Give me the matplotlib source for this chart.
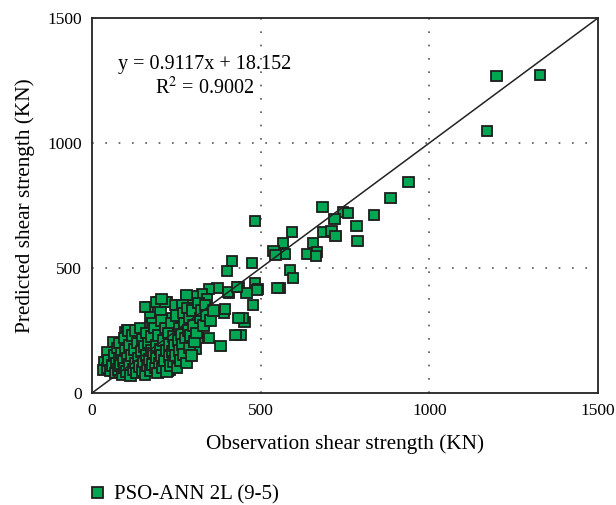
import matplotlib.pyplot as plt
import matplotlib.patheffects as pe

obs = [1198, 1328, 1171, 937, 886, 836, 783, 786, 682, 744, 759, 720, 685, 709, 723,
       593, 566, 572, 655, 640, 667, 664, 587, 596, 557, 483, 537, 543, 415, 400,
       474, 551, 483, 492, 433, 406, 371, 347, 326, 299, 279, 459, 403, 430, 489,
       477, 451, 439, 391, 394, 382, 347, 314, 308, 284, 341, 261, 296, 240, 270,
       305, 311, 276, 261, 234, 237, 231, 222, 281, 426, 447, 433,
       166, 196, 202, 172, 178, 62, 47, 38, 33, 98, 127, 89, 113, 157, 192, 219,
       246, 267, 237, 207, 246, 276, 187, 104, 225,
       45, 50, 55, 60, 65, 70, 72, 75, 78, 80, 82, 85, 88, 90, 92, 95, 97, 100,
       102, 105, 108, 110, 112, 115, 118, 120, 122, 125, 128, 130, 132, 135, 137,
       140, 142, 145, 148, 150, 152, 155, 157, 160, 162, 165, 167, 170, 172, 175,
       177, 180, 182, 185, 187, 190, 192, 195, 197, 200, 202, 205, 207, 210, 212,
       215, 218, 220, 222, 225, 228, 230, 232, 235, 238, 240, 242, 245, 248, 250,
       252, 255, 258, 260, 262, 265, 268, 270, 272, 275, 278, 280, 283, 285, 288,
       290, 292, 295, 298, 300, 305, 310, 315, 320, 325, 330, 335, 340, 350, 360]
pred = [1268, 1272, 1048, 844, 780, 712, 668, 608, 744, 724, 720, 696, 644, 648, 628,
        644, 600, 556, 600, 556, 564, 548, 492, 460, 420, 688, 568, 552, 528, 488,
        520, 420, 440, 416, 424, 400, 420, 416, 396, 388, 384, 400, 404, 424, 412,
        352, 284, 232, 320, 336, 188, 220, 220, 176, 168, 376, 352, 352, 292, 292,
        308, 272, 244, 220, 164, 132, 92, 364, 392, 232, 300, 300,
        344, 364, 332, 304, 280, 204, 164, 124, 92, 244, 244, 120, 80, 344, 364, 364,
        352, 352, 300, 376, 260, 252, 252, 252, 88,
        100, 130, 90, 110, 150, 80, 120, 180, 95, 140, 200, 110, 160, 75, 130, 220, 100, 170,
        85, 140, 250, 115, 190, 70, 150, 230, 95, 175, 250, 120, 80, 200, 140,
        105, 260, 165, 90, 215, 125, 185, 75, 150, 240, 110, 200, 135, 90, 170,
        225, 115, 160, 260, 100, 190, 140, 80, 230, 120, 175, 290, 150, 100, 210,
        130, 260, 170, 85, 240, 145, 195, 110, 280, 165, 125, 225, 190, 150, 310,
        100, 210, 170, 260, 130, 235, 195, 320, 155, 280, 220, 120, 340, 250, 180,
        300, 230, 150, 330, 270, 205, 240, 360, 300, 330, 270, 350, 310, 290, 330]

plt.rcParams['font.family'] = ['Liberation Serif', 'DejaVu Serif']
plt.rcParams['mathtext.fontset'] = 'stix'

fig = plt.figure(figsize=(6.16, 5.05), dpi=100)
ax = fig.add_axes([0.1494, 0.2218, 0.8214, 0.7426])

green = '#00a651'
ax.plot(obs, pred, 's', ms=7.8, mfc=green, mec='#1e1e1e', mew=1.3,
        label='PSO-ANN 2L (9-5)', zorder=3,
        path_effects=[pe.SimplePatchShadow(offset=(0.6, -0.6), alpha=0.35), pe.Normal()])
ax.plot([0, 1500], [0, 1500], color='#222222', lw=1.1, zorder=4)

ax.set_xlim(0, 1500)
ax.set_ylim(0, 1500)
ax.set_xticks([0, 500, 1000, 1500])
ax.set_yticks([0, 500, 1000, 1500])
ax.tick_params(length=0, labelsize=12.5, pad=7)
for s in ax.spines.values():
    s.set_linewidth(1.3)
    s.set_color('#222222')

for v in [500, 1000]:
    ax.axvline(v, color='#555555', lw=1.2, ls=(0, (1, 7)), zorder=1)
    ax.axhline(v, color='#555555', lw=1.2, ls=(0, (1, 7)), zorder=1)

ax.set_xlabel('Observation shear strength (KN)', fontsize=15.3, labelpad=11)
ax.set_ylabel('Predicted shear strength (KN)', fontsize=15.3, labelpad=9)

ax.text(335, 1312, 'y = 0.9117x + 18.152', ha='center', va='center', fontsize=14.5)
ax.text(335, 1220, 'R$^2$ = 0.9002', ha='center', va='center', fontsize=14.5)

fig.legend(loc='lower left', bbox_to_anchor=(0.112, -0.036), frameon=False,
           fontsize=15, handletextpad=0.35, handlelength=0.9)

fig.savefig('out.png', dpi=100)
